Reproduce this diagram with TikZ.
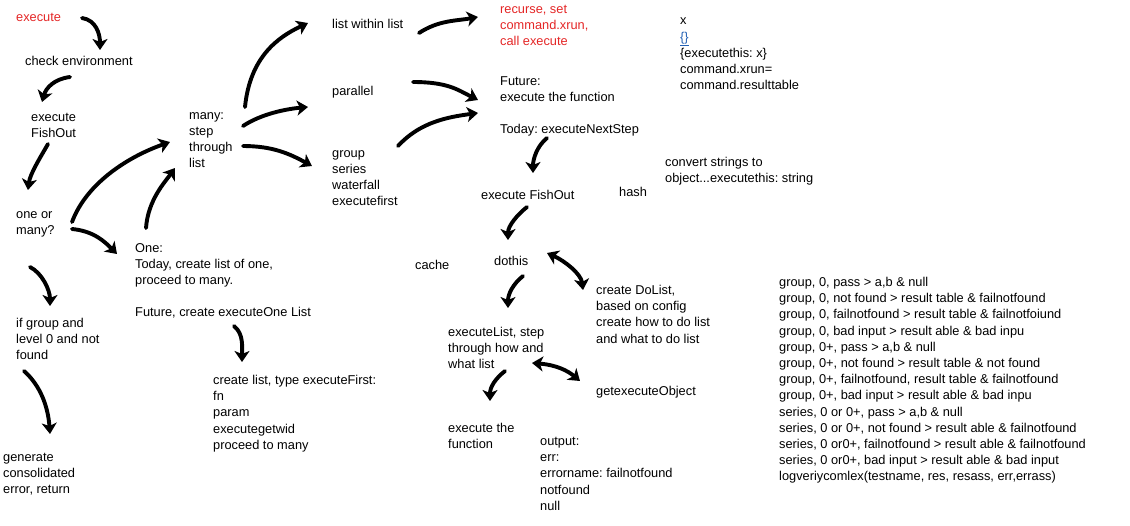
\documentclass[tikz,border=0pt]{standalone}
\usepackage{fontspec}
\setmainfont{Liberation Sans}
\usetikzlibrary{arrows.meta}
\frenchspacing
\definecolor{sketchred}{RGB}{228,38,38}
\definecolor{linkblue}{RGB}{34,96,180}
\tikzset{
  txt/.style={anchor=north west, inner sep=0pt, align=left, font=\fontsize{12.8}{16.2}\selectfont, execute at begin node=\strut},
  sk/.style={line width=3.9pt, line cap=round, -{Stealth[length=11pt,width=15pt,inset=3pt]}},
  skboth/.style={line width=3.9pt, line cap=round, {Stealth[length=11pt,width=15pt,inset=3pt]}-{Stealth[length=11pt,width=15pt,inset=3pt]}}
}
\begin{document}
\begin{tikzpicture}[x=1pt,y=-1pt]
        \useasboundingbox (0,0) rectangle (1130,525);

        %left column
        \node[txt, text=sketchred] (exe) at (16,10) {execute};
        \node[txt] (chk) at (25,54) {check environment};
        \node[txt] (fish) at (31,113) {execute\\FishOut};
        \node[txt] (onemany) at (16,211) {one or\\many?};
        \node[txt] (ifgrp) at (16,318) {if group and\\level 0 and not\\found};
        \node[txt] (gen) at (3,453) {generate\\consolidated\\error, return};
        \node[txt] (one) at (135,243) {One:\\Today, create list of one,\\proceed to many.\\[16.2pt]Future, create executeOne List};
        \node[txt] (many) at (189,112) {many:\\step\\through\\list};
        \node[txt] (mklist) at (213,375) {create list, type executeFirst:\\fn\\param\\executegetwid\\proceed to many};

        %middle
        \node[txt] (lwl) at (332,17) {list within list};
        \node[txt] (par) at (332,84) {parallel};
        \node[txt] (grp) at (332,150) {group\\series\\waterfall\\executefirst};
        \node[txt, text=sketchred] (rec) at (500,5) {recurse, set\\command.xrun,\\call execute};
        \node[txt] (fut) at (500,76) {Future:\\execute the function\\[16.2pt]Today: executeNextStep};
        \node[txt] (fish2) at (481,188) {execute FishOut};
        \node[txt] (hash) at (619,185) {hash};
        \node[txt] (cache) at (415,258) {cache};
        \node[txt] (dothis) at (494,254) {dothis};
        \node[txt] (dolist) at (596,285) {create DoList,\\based on config\\create how to do list\\and what to do list};
        \node[txt] (exlist) at (448,327) {executeList, step\\through how and\\what list};
        \node[txt] (getobj) at (596,384) {getexecuteObject};
        \node[txt] (exfn) at (448,423) {execute the\\function};
        \node[txt] (out) at (540,437) {output:\\err:\\errorname: failnotfound\\notfound\\null};

        %right
        \node[txt] (xcmd) at (680,18) {x\\\textcolor{linkblue}{\underline{\{\}}}\\\{executethis: x\}\\command.xrun=\\command.resulttable};
        \node[txt] (conv) at (665,157) {convert strings to\\object...executethis: string};
        \node[txt] (cases) at (779,277) {group, 0, pass > a,b \& null\\
          group, 0, not found > result table \& failnotfound\\
          group, 0, failnotfound > result table \& failnotfoiund\\
          group, 0, bad input > result able \& bad inpu\\
          group, 0+, pass > a,b \& null\\
          group, 0+, not found > result table \& not found\\
          group, 0+, failnotfound, result table \& failnotfound\\
          group, 0+, bad input > result able \& bad inpu\\
          series, 0 or 0+, pass > a,b \& null\\
          series, 0 or 0+, not found > result able \& failnotfound\\
          series, 0 or0+, failnotfound > result able \& failnotfound\\
          series, 0 or0+, bad input > result able \& bad input\\
          logveriycomlex(testname, res, resass, err,errass)};

        %the arrows
        \draw[sk] ([shift={(66,8)}]exe.north west) .. controls +(14,2) and +(0,-16) .. ([shift={(75,-4)}]chk.north west);
        \draw[sk] ([shift={(45,23)}]chk.north west) .. controls +(-16,2) and +(4,-14) .. ([shift={(11,-11)}]fish.north west);
        \draw[sk] ([shift={(17,31)}]fish.north west) .. controls +(-8,14) and +(2,-16) .. ([shift={(12,-21)}]onemany.north west);
        \draw[sk] ([shift={(56,11)}]onemany.north west) .. controls +(15,-40) and +(-40,14) .. ([shift={(-19,30)}]many.north west);
        \draw[sk] ([shift={(56,18)}]onemany.north west) .. controls +(22,2) and +(-12,-12) .. ([shift={(-18,11)}]one.north west);
        \draw[sk] ([shift={(11,-15)}]one.north west) .. controls +(2,-28) and +(-10,14) .. ([shift={(-14,56)}]many.north west);
        \draw[sk] ([shift={(14,56)}]onemany.north west) .. controls +(12,6) and +(0,-16) .. ([shift={(34,-12)}]ifgrp.north west);
        \draw[sk] ([shift={(8,53)}]ifgrp.north west) .. controls +(16,14) and +(-2,-28) .. ([shift={(47,-19)}]gen.north west);
        \draw[sk] ([shift={(99,83)}]one.north west) .. controls +(10,8) and +(0,-14) .. ([shift={(29,-13)}]mklist.north west);
        \draw[sk] ([shift={(56,-5)}]many.north west) .. controls +(5,-50) and +(-30,14) .. ([shift={(-24,6)}]lwl.north west);
        \draw[sk] ([shift={(54,14)}]many.north west) .. controls +(18,-12) and +(-22,2) .. ([shift={(-24,23)}]par.north west);
        \draw[sk] ([shift={(54,34)}]many.north west) .. controls +(30,0) and +(-22,-12) .. ([shift={(-20,16)}]grp.north west);
        \draw[sk] ([shift={(87,16)}]lwl.north west) .. controls +(20,-13) and +(-22,4) .. ([shift={(-22,12)}]rec.north west);
        \draw[sk] ([shift={(81,-2)}]par.north west) .. controls +(35,0) and +(-20,-10) .. ([shift={(-22,24)}]fut.north west);
        \draw[sk] ([shift={(66,-4)}]grp.north west) .. controls +(22,-24) and +(-30,4) .. ([shift={(-22,37)}]fut.north west);
        \draw[sk] ([shift={(47,62)}]fut.north west) .. controls +(-10,8) and +(0,-14) .. ([shift={(52,-15)}]fish2.north west);
        \draw[sk] ([shift={(46,19)}]fish2.north west) .. controls +(-10,8) and +(0,-14) .. ([shift={(14,-14)}]dothis.north west);
        \draw[skboth] ([shift={(53,-1)}]dothis.north west) .. controls +(18,8) and +(-2,-16) .. ([shift={(-13,5)}]dolist.north west);
        \draw[sk] ([shift={(29,22)}]dothis.north west) .. controls +(-10,8) and +(0,-14) .. ([shift={(60,-19)}]exlist.north west);
        \draw[skboth] ([shift={(84,36)}]exlist.north west) .. controls +(25,2) and +(-12,-10) .. ([shift={(-16,-3)}]getobj.north west);
        \draw[sk] ([shift={(57,44)}]exlist.north west) .. controls +(-10,8) and +(0,-14) .. ([shift={(42,-22)}]exfn.north west);
\end{tikzpicture}
\end{document}
